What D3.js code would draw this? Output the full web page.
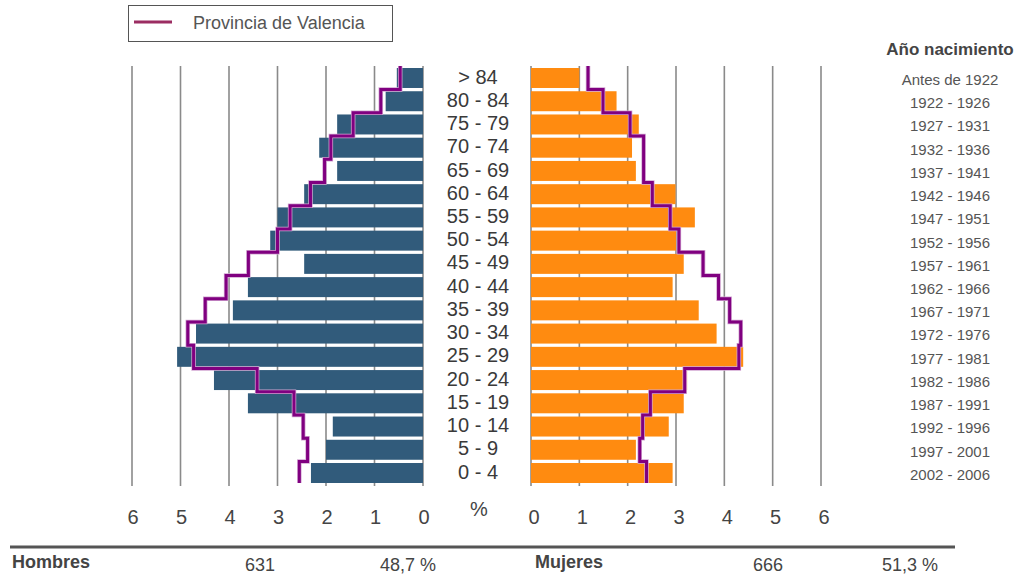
<!DOCTYPE html>
<html>
<head>
<meta charset="utf-8">
<script src="https://cdn.jsdelivr.net/npm/d3@7"></script>
<style>
  body { margin: 0; background: #fff; }
  svg { display: block; }
  text { font-family: "Liberation Sans", Arial, sans-serif; }
</style>
</head>
<body>
<svg id="canvas" width="1018" height="580"></svg>
<script>
"use strict"

// age groups, top to bottom
const ageGroups = ["> 84", "80 - 84", "75 - 79", "70 - 74", "65 - 69", "60 - 64", "55 - 59", "50 - 54",
  "45 - 49", "40 - 44", "35 - 39", "30 - 34", "25 - 29", "20 - 24", "15 - 19", "10 - 14", "5 - 9", "0 - 4"]

const birthYears = ["Antes de 1922", "1922 - 1926", "1927 - 1931", "1932 - 1936", "1937 - 1941", "1942 - 1946",
  "1947 - 1951", "1952 - 1956", "1957 - 1961", "1962 - 1966", "1967 - 1971", "1972 - 1976", "1977 - 1981",
  "1982 - 1986", "1987 - 1991", "1992 - 1996", "1997 - 2001", "2002 - 2006"]

// % of population, municipality
const menPct = [0.54, 0.77, 1.77, 2.14, 1.77, 2.45, 3.0, 3.15, 2.45, 3.61, 3.92, 4.68, 5.07, 4.31, 3.61, 1.86, 2.0, 2.31]
const womenPct = [1.0, 1.77, 2.23, 2.09, 2.17, 2.99, 3.39, 3.0, 3.16, 2.93, 3.47, 3.84, 4.39, 3.23, 3.16, 2.85, 2.17, 2.93]

// % of population, Provincia de Valencia
const provMenPct = [0.47, 0.87, 1.44, 1.9, 2.03, 2.32, 2.74, 3.0, 3.6, 4.06, 4.49, 4.85, 4.73, 3.42, 2.66, 2.47, 2.38, 2.55]
const provWomenPct = [1.18, 1.49, 2.05, 2.33, 2.33, 2.51, 2.88, 3.06, 3.56, 3.88, 4.11, 4.34, 4.3, 3.18, 2.47, 2.31, 2.25, 2.39]

const ticks = [0, 1, 2, 3, 4, 5, 6]

const totals = { men: "631", menShare: "48,7 %", women: "666", womenShare: "51,3 %" }

function pyramid() {
  const svg = d3.select("#canvas")

  const y = d3.scaleBand().domain(ageGroups).range([68, 483]).paddingInner(0.14)
  const xL = d3.scaleLinear().domain([0, 6]).range([423, 132])
  const xR = d3.scaleLinear().domain([0, 6]).range([531, 821])
  const gap = y.step() - y.bandwidth()

  // grid lines
  const grid = svg.append('g')
  grid.selectAll('line.gl').data(ticks).enter().append('line')
    .attr('x1', d => xL(d)).attr('x2', d => xL(d))
    .attr('y1', 66).attr('y2', 486)
    .attr('stroke', '#8a8a8a').attr('stroke-width', 1.6)
  grid.selectAll('line.gr').data(ticks).enter().append('line')
    .attr('x1', d => xR(d)).attr('x2', d => xR(d))
    .attr('y1', 66).attr('y2', 486)
    .attr('stroke', '#8a8a8a').attr('stroke-width', 1.6)

  // bars
  svg.append('g').selectAll('rect').data(menPct).enter().append('rect')
    .attr('x', d => xL(d))
    .attr('y', (d, i) => y(ageGroups[i]))
    .attr('width', d => xL(0) - xL(d))
    .attr('height', y.bandwidth())
    .attr('fill', '#315b7b')

  svg.append('g').selectAll('rect').data(womenPct).enter().append('rect')
    .attr('x', xR(0))
    .attr('y', (d, i) => y(ageGroups[i]))
    .attr('width', d => xR(d) - xR(0))
    .attr('height', y.bandwidth())
    .attr('fill', '#ff8b10')

  // province step lines
  function stepPoints(vals, x) {
    const pts = []
    vals.forEach((v, i) => {
      const top = i === 0 ? y(ageGroups[i]) - 2 : y(ageGroups[i]) - gap / 2
      const bot = i === vals.length - 1 ? y(ageGroups[i]) + y.bandwidth() : y(ageGroups[i]) + y.bandwidth() + gap / 2
      pts.push([x(v), top], [x(v), bot])
    })
    return pts
  }
  const line = d3.line()
  ;[[provMenPct, xL], [provWomenPct, xR]].forEach(([vals, x]) => {
    const pts = stepPoints(vals, x)
    svg.append('path').attr('d', line(pts))
      .attr('fill', 'none').attr('stroke', '#d2a6d2').attr('stroke-width', 4.5)
    svg.append('path').attr('d', line(pts))
      .attr('fill', 'none').attr('stroke', '#800080').attr('stroke-width', 3)
  })

  // age labels in the middle
  svg.append('g').selectAll('text').data(ageGroups).enter().append('text')
    .attr('x', 478)
    .attr('y', d => y(d) + y.bandwidth() / 2)
    .attr('dy', '0.28em')
    .attr('text-anchor', 'middle')
    .attr('font-size', 20)
    .attr('fill', '#3a3a3a')
    .text(d => d)

  // birth years on the right
  svg.append('text')
    .attr('x', 950).attr('y', 55).attr('text-anchor', 'middle')
    .attr('font-size', 17).attr('font-weight', 'bold').attr('fill', '#444')
    .text("Año nacimiento")
  svg.append('g').selectAll('text').data(birthYears).enter().append('text')
    .attr('x', 950)
    .attr('y', (d, i) => y(ageGroups[i]) + y.bandwidth() / 2 + 1.5)
    .attr('dy', '0.36em')
    .attr('text-anchor', 'middle')
    .attr('font-size', 15)
    .attr('fill', '#555')
    .text(d => d)

  // tick labels
  const tickG = svg.append('g').attr('font-size', 20).attr('fill', '#444')
  tickG.selectAll('text.l').data(ticks).enter().append('text')
    .attr('x', d => xL(d) + 1).attr('y', 524).attr('text-anchor', 'middle').text(d => d)
  tickG.selectAll('text.r').data(ticks).enter().append('text')
    .attr('x', d => xR(d) + 3).attr('y', 524).attr('text-anchor', 'middle').text(d => d)
  svg.append('text').attr('x', 479).attr('y', 516)
    .attr('text-anchor', 'middle').attr('font-size', 20).attr('fill', '#444').text('%')

  // bottom summary
  svg.append('line').attr('x1', 10).attr('x2', 955).attr('y1', 547).attr('y2', 547)
    .attr('stroke', '#555').attr('stroke-width', 3)
  const foot = svg.append('g').attr('font-size', 18).attr('fill', '#444')
  foot.append('text').attr('x', 12).attr('y', 568).attr('font-weight', 'bold').text("Hombres")
  foot.append('text').attr('x', 260).attr('y', 571).attr('text-anchor', 'middle').text(totals.men)
  foot.append('text').attr('x', 408).attr('y', 571).attr('text-anchor', 'middle').text(totals.menShare)
  foot.append('text').attr('x', 535).attr('y', 568).attr('font-weight', 'bold').text("Mujeres")
  foot.append('text').attr('x', 768).attr('y', 571).attr('text-anchor', 'middle').text(totals.women)
  foot.append('text').attr('x', 910).attr('y', 571).attr('text-anchor', 'middle').text(totals.womenShare)

  // legend
  const leg = svg.append('g')
  leg.append('rect').attr('x', 128.5).attr('y', 5.5).attr('width', 264).attr('height', 36)
    .attr('fill', '#fff').attr('stroke', '#555').attr('stroke-width', 1)
  leg.append('line').attr('x1', 134).attr('x2', 172).attr('y1', 22).attr('y2', 22)
    .attr('stroke', '#9b2d62').attr('stroke-width', 3)
  leg.append('text').attr('x', 193).attr('y', 23).attr('dy', '0.36em')
    .attr('font-size', 18).attr('fill', '#555').text("Provincia de Valencia")
}

pyramid()
</script>
</body>
</html>
